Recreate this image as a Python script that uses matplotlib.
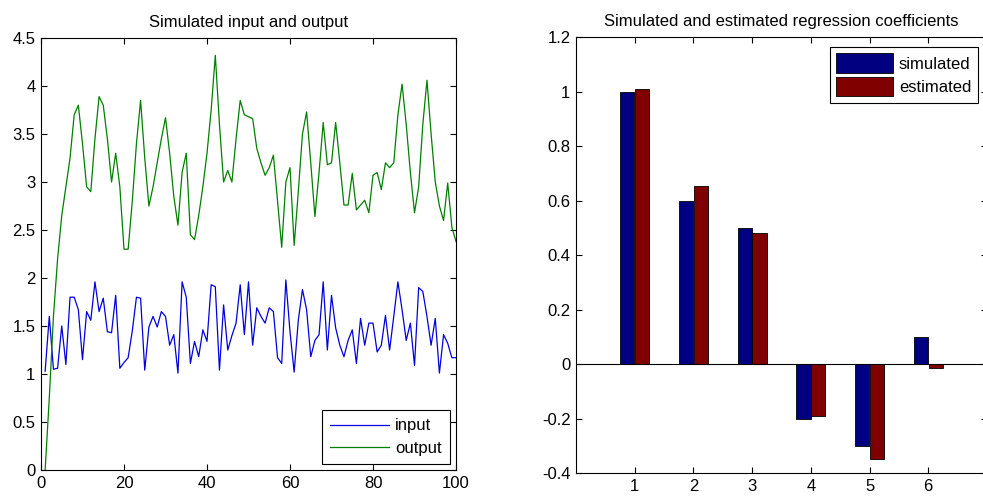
import matplotlib
matplotlib.use("Agg")
import matplotlib.pyplot as plt
import numpy as np

plt.rcParams['font.family'] = ['Liberation Sans', 'DejaVu Sans']

t = list(range(1, 101))
input_vals = [1.03, 1.60, 1.05, 1.06, 1.50, 1.10, 1.80, 1.80, 1.67, 1.15,
              1.65, 1.56, 1.96, 1.65, 1.79, 1.44, 1.43, 1.82, 1.06, 1.12,
              1.17, 1.45, 1.80, 1.79, 1.04, 1.49, 1.60, 1.49, 1.65, 1.60,
              1.30, 1.41, 1.01, 1.96, 1.80, 1.11, 1.34, 1.18, 1.46, 1.34,
              1.93, 1.91, 1.04, 1.72, 1.25, 1.40, 1.53, 1.93, 1.41, 1.96,
              1.30, 1.69, 1.60, 1.53, 1.69, 1.65, 1.17, 1.11, 1.98, 1.44,
              1.02, 1.56, 1.88, 1.67, 1.18, 1.35, 1.41, 1.96, 1.25, 1.82,
              1.48, 1.30, 1.18, 1.35, 1.46, 1.11, 1.58, 1.30, 1.53, 1.53,
              1.23, 1.30, 1.61, 1.25, 1.60, 1.96, 1.67, 1.35, 1.53, 1.09,
              1.90, 1.86, 1.60, 1.30, 1.58, 1.01, 1.41, 1.32, 1.17, 1.17]
output_vals = [0.00, 0.75, 1.60, 2.20, 2.65, 2.95, 3.25, 3.70, 3.80, 3.40,
               2.95, 2.90, 3.45, 3.89, 3.80, 3.45, 3.00, 3.30, 2.95, 2.30,
               2.30, 2.80, 3.40, 3.85, 3.25, 2.75, 2.95, 3.20, 3.45, 3.67,
               3.30, 2.85, 2.55, 3.10, 3.30, 2.45, 2.40, 2.65, 2.95, 3.30,
               3.75, 4.32, 3.60, 3.00, 3.12, 3.00, 3.45, 3.85, 3.70, 3.68,
               3.66, 3.35, 3.20, 3.07, 3.15, 3.28, 2.80, 2.32, 3.00, 3.15,
               2.34, 2.90, 3.50, 3.73, 3.20, 2.64, 3.10, 3.62, 3.18, 3.20,
               3.62, 3.20, 2.76, 2.76, 3.09, 2.71, 2.76, 2.81, 2.68, 3.07,
               3.10, 2.92, 3.20, 3.15, 3.20, 3.70, 4.02, 3.60, 3.10, 2.68,
               2.95, 3.60, 4.06, 3.50, 3.00, 2.75, 2.60, 2.99, 2.53, 2.38]

coef_idx = [1, 2, 3, 4, 5, 6]
simulated = [1.0, 0.6, 0.5, -0.2, -0.3, 0.1]
estimated = [1.01, 0.655, 0.483, -0.19, -0.35, -0.015]

fig = plt.figure(figsize=(9.83, 4.99), dpi=100)
fs = 12

def matlab_style(ax):
    ax.tick_params(direction='in', top=True, right=True, length=4, width=0.8,
                   labelsize=fs, pad=4)
    for s in ax.spines.values():
        s.set_linewidth(0.8)

# Left panel
ax1 = fig.add_axes([0.0417, 0.0581, 0.4222, 0.8657])
ax1.plot(t, input_vals, color='#0000e0', lw=0.9, label='input')
ax1.plot(t, output_vals, color='#008000', lw=0.9, label='output')
ax1.set_xlim(0, 100)
ax1.set_ylim(0, 4.5)
ax1.set_xticks([0, 20, 40, 60, 80, 100])
ax1.set_yticks(np.arange(0, 4.51, 0.5))
ax1.set_yticklabels(['0', '0.5', '1', '1.5', '2', '2.5', '3', '3.5', '4', '4.5'])
ax1.set_title('Simulated input and output', fontsize=fs, pad=8)
matlab_style(ax1)
leg1 = ax1.legend(loc='lower right', fontsize=fs, fancybox=False, framealpha=1,
                  edgecolor='black', handlelength=3.5, borderaxespad=0.35,
                  labelspacing=0.45, handletextpad=0.4, borderpad=0.5)
leg1.get_frame().set_linewidth(0.8)

# Right panel
ax2 = fig.add_axes([0.586, 0.0521, 0.418, 0.873])
w = 0.24
x = np.array(coef_idx)
ax2.bar(x - 0.125, simulated, width=w, color='#000080', edgecolor='black',
        linewidth=0.6, label='simulated')
ax2.bar(x + 0.125, estimated, width=w, color='#800000', edgecolor='black',
        linewidth=0.6, label='estimated')
ax2.axhline(0, color='black', lw=0.8)
ax2.set_xlim(0, 7)
ax2.set_ylim(-0.4, 1.2)
ax2.set_xticks(coef_idx)
ax2.set_yticks(np.arange(-0.4, 1.21, 0.2))
ax2.set_yticklabels(['-0.4', '-0.2', '0', '0.2', '0.4', '0.6', '0.8', '1', '1.2'])
ax2.set_title('Simulated and estimated regression coefficients', fontsize=fs, pad=8)
matlab_style(ax2)
leg2 = ax2.legend(loc='upper right', fontsize=fs, fancybox=False, framealpha=1,
                  edgecolor='black', handlelength=3.4, handleheight=1.45,
                  borderaxespad=0.3, labelspacing=0.2, handletextpad=0.35,
                  borderpad=0.4, bbox_to_anchor=(0.99, 0.99))
leg2.get_frame().set_linewidth(0.8)

fig.savefig('out.png', dpi=100)
